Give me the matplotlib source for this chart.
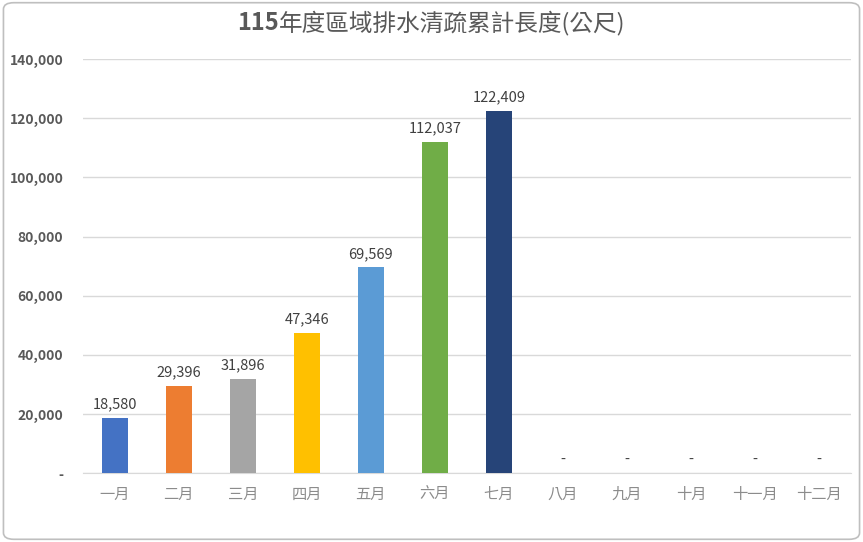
import matplotlib
matplotlib.use("Agg")
import matplotlib.pyplot as plt
from matplotlib.patches import FancyBboxPatch
from matplotlib.ticker import FuncFormatter

plt.rcParams["font.family"] = ["Noto Sans CJK TC", "DejaVu Sans"]

months = ["一月", "二月", "三月", "四月", "五月", "六月",
          "七月", "八月", "九月", "十月", "十一月", "十二月"]
lengths = [18580, 29396, 31896, 47346, 69569, 112037, 122409, 0, 0, 0, 0, 0]
colors = ["#4472C4", "#ED7D31", "#A5A5A5", "#FFC000", "#5B9BD5", "#70AD47",
          "#264478", "#9E480E", "#636363", "#997300", "#255E91", "#43682B"]
title_year = "115"
title_rest = "年度區域排水清疏累計長度(公尺)"


def fmt(v, _pos=None):
    return "-" if v == 0 else f"{int(v):,}"


fig = plt.figure(figsize=(8.63, 5.42), dpi=100)
ax = fig.add_axes([0.096, 0.127, 0.890, 0.764])

x = range(len(months))
bars = ax.bar(x, lengths, width=0.41, color=colors, zorder=3)
for rect, v in zip(bars, lengths):
    ax.text(rect.get_x() + rect.get_width() / 2, v + 2200, fmt(v),
            ha="center", va="bottom", fontsize=10.5, color="#404040")

ax.set_xlim(-0.5, len(months) - 0.5)
ax.set_ylim(0, 140000)
ax.set_yticks(range(0, 140001, 20000))
ax.yaxis.set_major_formatter(FuncFormatter(fmt))
ax.set_xticks(list(x))
ax.set_xticklabels(months, fontsize=11, color="#8c8c8c", fontweight="light")
ax.tick_params(axis="y", labelsize=10, labelcolor="#595959", length=0, pad=14)
ax.tick_params(axis="x", length=0, pad=9)
for lbl in ax.get_yticklabels():
    lbl.set_fontweight("bold")
ax.grid(axis="y", color="#d9d9d9", linewidth=1, zorder=0)
for side in ["top", "right", "left"]:
    ax.spines[side].set_visible(False)
ax.spines["bottom"].set_color("#d9d9d9")

# title: bold year, lighter rest, centred as one line
t1 = fig.text(0, 0.958, title_year, ha="left", va="center", fontsize=17,
              fontweight="bold", color="#595959")
t2 = fig.text(0, 0.958, title_rest, ha="left", va="center", fontsize=17,
              fontweight="medium", color="#595959")
fig.canvas.draw()
r = fig.canvas.get_renderer()
w1 = t1.get_window_extent(r).width / fig.bbox.width
w2 = t2.get_window_extent(r).width / fig.bbox.width
x0 = 0.5 - (w1 + w2) / 2
t1.set_x(x0)
t2.set_x(x0 + w1)

frame = FancyBboxPatch((0.004, 0.005), 0.992, 0.99,
                       boxstyle="round,pad=0,rounding_size=0.012",
                       transform=fig.transFigure, fill=False,
                       edgecolor="#bfbfbf", linewidth=1.2)
fig.patches.append(frame)

fig.savefig("out.png", dpi=100)
